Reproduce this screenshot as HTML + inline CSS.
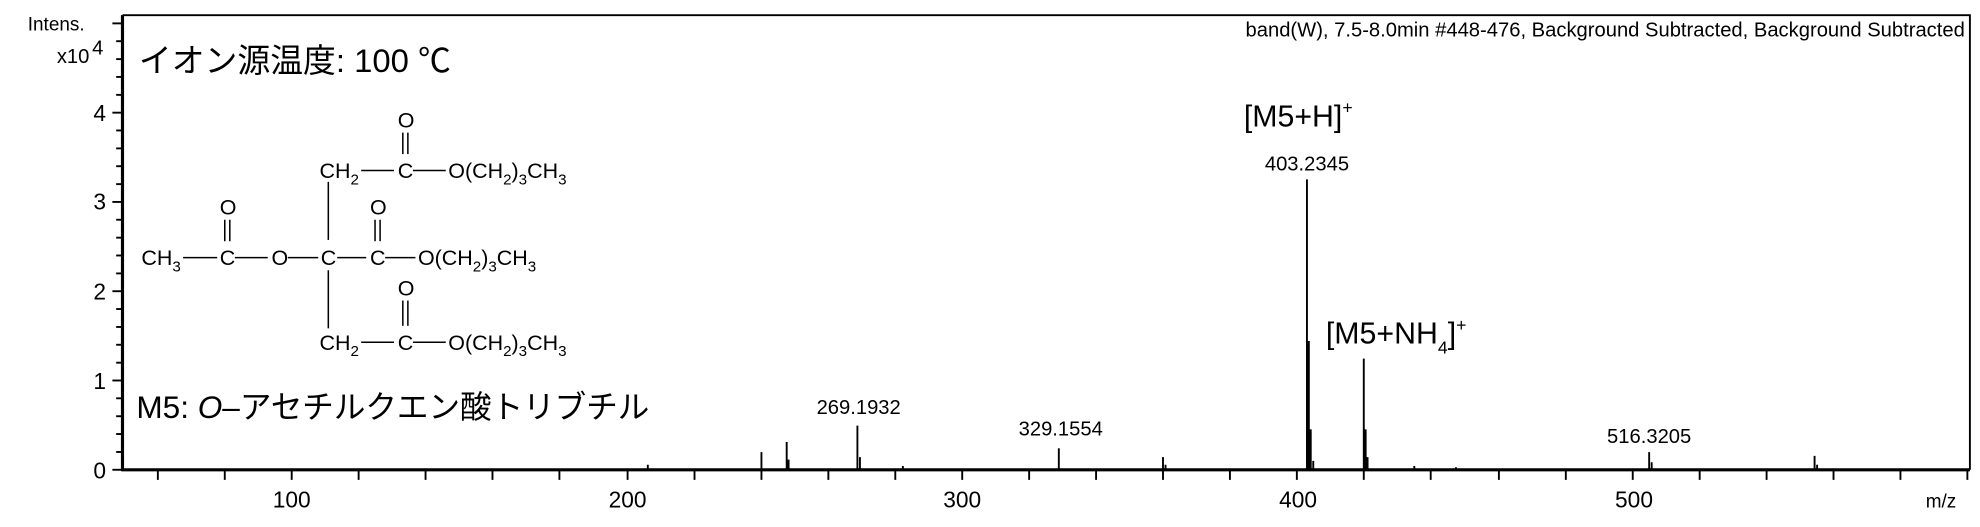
<!DOCTYPE html>
<html><head><meta charset="utf-8"><style>
html,body{margin:0;padding:0;background:#fff;overflow:hidden}
svg{display:block}
text{font-family:"Liberation Sans","Noto Sans CJK JP",sans-serif;fill:#000}
</style></head><body>
<svg width="1980" height="527" viewBox="0 0 1568 417.3" xmlns="http://www.w3.org/2000/svg">
<rect width="1568" height="418" fill="#fff"/>
<path d="M97 12 H1560 V372" fill="none" stroke="#000" stroke-width="1.5"/>
<line x1="97" y1="12" x2="97" y2="373" stroke="#000" stroke-width="2.5"/>
<line x1="96" y1="372" x2="1560" y2="372" stroke="#000" stroke-width="2.5"/>
<g stroke="#000" stroke-width="1.5">
<line x1="89" y1="372" x2="97" y2="372"/><line x1="89" y1="301.3" x2="97" y2="301.3"/>
<line x1="89" y1="230.6" x2="97" y2="230.6"/><line x1="89" y1="159.9" x2="97" y2="159.9"/>
<line x1="89" y1="89.2" x2="97" y2="89.2"/>
<line x1="92" y1="357.9" x2="97" y2="357.9"/><line x1="92" y1="343.7" x2="97" y2="343.7"/><line x1="92" y1="329.6" x2="97" y2="329.6"/><line x1="92" y1="315.4" x2="97" y2="315.4"/>
<line x1="92" y1="287.2" x2="97" y2="287.2"/><line x1="92" y1="273" x2="97" y2="273"/><line x1="92" y1="258.9" x2="97" y2="258.9"/><line x1="92" y1="244.7" x2="97" y2="244.7"/>
<line x1="92" y1="216.5" x2="97" y2="216.5"/><line x1="92" y1="202.3" x2="97" y2="202.3"/><line x1="92" y1="188.2" x2="97" y2="188.2"/><line x1="92" y1="174" x2="97" y2="174"/>
<line x1="92" y1="145.8" x2="97" y2="145.8"/><line x1="92" y1="131.6" x2="97" y2="131.6"/><line x1="92" y1="117.5" x2="97" y2="117.5"/><line x1="92" y1="103.3" x2="97" y2="103.3"/>
<line x1="92" y1="75.1" x2="97" y2="75.1"/><line x1="92" y1="60.9" x2="97" y2="60.9"/><line x1="92" y1="46.8" x2="97" y2="46.8"/><line x1="92" y1="32.6" x2="97" y2="32.6"/><line x1="89" y1="18.5" x2="97" y2="18.5"/>
</g>
<g font-size="18" text-anchor="end">
<text x="84" y="379">0</text><text x="84" y="308">1</text><text x="84" y="237">2</text><text x="84" y="166">3</text><text x="84" y="96">4</text>
</g>
<text x="22" y="24" font-size="15">Intens.</text>
<text x="45" y="50" font-size="16">x10</text><text x="73" y="43" font-size="16">4</text>
<g stroke="#000" stroke-width="1.5">
<line x1="125" y1="372" x2="125" y2="380"/><line x1="178" y1="372" x2="178" y2="380"/><line x1="231" y1="372" x2="231" y2="380"/><line x1="284" y1="372" x2="284" y2="380"/><line x1="337" y1="372" x2="337" y2="380"/><line x1="390" y1="372" x2="390" y2="380"/><line x1="443" y1="372" x2="443" y2="380"/><line x1="497" y1="372" x2="497" y2="380"/><line x1="550" y1="372" x2="550" y2="380"/><line x1="603" y1="372" x2="603" y2="380"/><line x1="656" y1="372" x2="656" y2="380"/><line x1="709" y1="372" x2="709" y2="380"/><line x1="762" y1="372" x2="762" y2="380"/><line x1="815" y1="372" x2="815" y2="380"/><line x1="868" y1="372" x2="868" y2="380"/><line x1="921" y1="372" x2="921" y2="380"/><line x1="974" y1="372" x2="974" y2="380"/><line x1="1027" y1="372" x2="1027" y2="380"/><line x1="1080" y1="372" x2="1080" y2="380"/><line x1="1133" y1="372" x2="1133" y2="380"/><line x1="1187" y1="372" x2="1187" y2="380"/><line x1="1240" y1="372" x2="1240" y2="380"/><line x1="1293" y1="372" x2="1293" y2="380"/><line x1="1346" y1="372" x2="1346" y2="380"/><line x1="1399" y1="372" x2="1399" y2="380"/><line x1="1452" y1="372" x2="1452" y2="380"/><line x1="1505" y1="372" x2="1505" y2="380"/><line x1="1558" y1="372" x2="1558" y2="380"/>
</g>
<g font-size="18" text-anchor="middle">
<text x="231" y="402">100</text><text x="497" y="402">200</text><text x="762" y="402">300</text><text x="1028" y="402">400</text><text x="1294" y="402">500</text>
</g>
<text x="1525" y="402" font-size="15">m/z</text>
<g stroke="#000" stroke-width="1.5" fill="none">
<path d="M1035 372 V142 M1036.5 372 V270 M1038 372 V340 M1040 372 V365"/>
<path d="M1080 372 V284 M1081.5 372 V340 M1083 372 V362"/>
<path d="M679 372 V337 M681 372 V362"/>
<path d="M623 372 V350 M624.5 372 V364"/>
<path d="M603 372 V358"/>
<path d="M838.5 372 V355"/>
<path d="M921 372 V362 M923 372 V368"/>
<path d="M1306 372 V358 M1308 372 V366"/>
<path d="M1437 372 V361 M1439 372 V368"/>
<path d="M513 372 V368 M715 372 V369 M1120 372 V369 M1153 372 V370"/>
</g>
<g font-size="16" text-anchor="middle">
<text x="1035" y="135">403.2345</text>
<text x="680" y="328">269.1932</text>
<text x="840" y="345">329.1554</text>
<text x="1306" y="351">516.3205</text>
</g>
<text x="985" y="100" font-size="24">[M5+H]<tspan font-size="14" dy="-10">+</tspan></text>
<text x="1050" y="272" font-size="24">[M5+NH<tspan font-size="14" dy="8">4</tspan><tspan dy="-8">]</tspan><tspan font-size="14" dy="-10">+</tspan></text>
<text x="1556" y="29" font-size="16" text-anchor="end">band(W), 7.5-8.0min #448-476, Background Subtracted, Background Subtracted</text>
<text x="110" y="57" font-size="26">イオン源温度: 100 ℃</text>
<text x="108" y="331" font-size="25">M5: <tspan font-style="italic">O</tspan>–アセチルクエン酸トリブチル</text>
<g font-size="17">
<text x="253" y="141">CH<tspan font-size="12" dy="5">2</tspan></text>
<text x="315" y="141">C</text>
<text x="355" y="141">O(CH<tspan font-size="12" dy="5">2</tspan><tspan dy="-5">)</tspan><tspan font-size="12" dy="5">3</tspan><tspan dy="-5">CH</tspan><tspan font-size="12" dy="5">3</tspan></text>
<text x="315" y="101">O</text>
<text x="112" y="210">CH<tspan font-size="12" dy="5">3</tspan></text>
<text x="174" y="210">C</text>
<text x="174" y="170">O</text>
<text x="215" y="210">O</text>
<text x="254" y="210">C</text>
<text x="293" y="210">C</text>
<text x="293" y="170">O</text>
<text x="331" y="210">O(CH<tspan font-size="12" dy="5">2</tspan><tspan dy="-5">)</tspan><tspan font-size="12" dy="5">3</tspan><tspan dy="-5">CH</tspan><tspan font-size="12" dy="5">3</tspan></text>
<text x="315" y="234">O</text>
<text x="253" y="277">CH<tspan font-size="12" dy="5">2</tspan></text>
<text x="315" y="277">C</text>
<text x="355" y="277">O(CH<tspan font-size="12" dy="5">2</tspan><tspan dy="-5">)</tspan><tspan font-size="12" dy="5">3</tspan><tspan dy="-5">CH</tspan><tspan font-size="12" dy="5">3</tspan></text>
</g>
<g stroke="#000" stroke-width="1.2">
<line x1="286" y1="135" x2="312" y2="135"/><line x1="327" y1="135" x2="353" y2="135"/>
<line x1="319" y1="105" x2="319" y2="122"/><line x1="323" y1="105" x2="323" y2="122"/>
<line x1="145" y1="204" x2="172" y2="204"/><line x1="186" y1="204" x2="212" y2="204"/>
<line x1="228" y1="204" x2="252" y2="204"/><line x1="267" y1="204" x2="290" y2="204"/><line x1="305" y1="204" x2="329" y2="204"/>
<line x1="178" y1="174" x2="178" y2="191"/><line x1="182" y1="174" x2="182" y2="191"/>
<line x1="297" y1="174" x2="297" y2="191"/><line x1="301" y1="174" x2="301" y2="191"/>
<line x1="319" y1="238" x2="319" y2="258"/><line x1="323" y1="238" x2="323" y2="258"/>
<line x1="260" y1="144" x2="260" y2="190"/><line x1="260" y1="214" x2="260" y2="260"/>
<line x1="286" y1="271" x2="312" y2="271"/><line x1="327" y1="271" x2="353" y2="271"/>
</g>
</svg>
</body></html>
